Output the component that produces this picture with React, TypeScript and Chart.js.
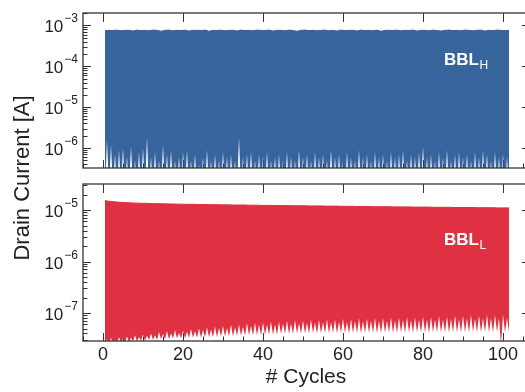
import { useEffect, useRef } from "react";
import { Chart, registerables } from "chart.js";

Chart.register(...registerables);

const FONT = '"Liberation Sans", Arial, Helvetica, sans-serif';
const INK = "#222222";
const AXIS = "#333333";
const BLUE = "#37649c";
const RED = "#e03143";

// x axis: cycle number
const xMajorTicks = [0, 20, 40, 60, 80, 100];
const xMinorStep = 5;

// labelled decades on each panel (exponents of 10)
const decadesH = [-3, -4, -5, -6];
const decadesL = [-5, -6, -7];

// BBL_H: on-state current per cycle [A]
const peakH = [
  7.4e-4, 7.6e-4, 7.5e-4, 7.7e-4, 7.4e-4, 7.6e-4, 7.6e-4, 7.3e-4, 7.7e-4, 7.5e-4,
  7.6e-4, 7.4e-4, 7.7e-4, 7.6e-4, 7.2e-4, 7.6e-4, 7.7e-4, 7.4e-4, 7.6e-4, 7.5e-4,
  7.7e-4, 7.3e-4, 7.6e-4, 7.6e-4, 7.5e-4, 7.7e-4, 7.2e-4, 7.6e-4, 7.5e-4, 7.7e-4,
  7.4e-4, 7.6e-4, 7.6e-4, 7.3e-4, 7.7e-4, 7.5e-4, 7.6e-4, 7.4e-4, 7.7e-4, 7.6e-4,
  7.5e-4, 7.7e-4, 7.3e-4, 7.6e-4, 7.6e-4, 7.4e-4, 7.7e-4, 7.5e-4, 7.2e-4, 7.6e-4,
  7.7e-4, 7.5e-4, 7.6e-4, 7.4e-4, 7.6e-4, 7.7e-4, 7.4e-4, 7.6e-4, 7.3e-4, 7.7e-4,
  7.5e-4, 7.6e-4, 7.6e-4, 7.3e-4, 7.7e-4, 7.5e-4, 7.6e-4, 7.4e-4, 7.7e-4, 7.2e-4,
  7.6e-4, 7.6e-4, 7.5e-4, 7.7e-4, 7.4e-4, 7.6e-4, 7.5e-4, 7.7e-4, 7.3e-4, 7.6e-4,
  7.6e-4, 7.4e-4, 7.7e-4, 7.5e-4, 7.3e-4, 7.6e-4, 7.7e-4, 7.5e-4, 7.6e-4, 7.4e-4,
  7.7e-4, 7.6e-4, 7.4e-4, 7.6e-4, 7.7e-4, 7.3e-4, 7.6e-4, 7.5e-4, 7.7e-4, 7.6e-4,
  7.5e-4, 7.6e-4,
];

// BBL_H: off-state current between cycles [A]
const offH = [
  1.6e-6, 1.2e-6, 7e-7, 9e-7, 1.0e-6, 6e-7, 1.1e-6, 5e-7, 8e-7, 1.0e-6,
  1.8e-6, 6e-7, 8e-7, 5e-7, 1.2e-6, 7e-7, 9e-7, 5e-7, 6e-7, 8e-7,
  9e-7, 5e-7, 7e-7, 4e-7, 6e-7, 9e-7, 5e-7, 7e-7, 5e-7, 8e-7,
  6e-7, 7e-7, 5e-7, 1.8e-6, 6e-7, 7e-7, 8e-7, 5e-7, 7e-7, 6e-7,
  8e-7, 5e-7, 6e-7, 7e-7, 5e-7, 8e-7, 6e-7, 5e-7, 9e-7, 6e-7,
  7e-7, 5e-7, 8e-7, 6e-7, 7e-7, 5e-7, 9e-7, 6e-7, 7e-7, 5e-7,
  8e-7, 6e-7, 5e-7, 9e-7, 6e-7, 7e-7, 5e-7, 8e-7, 6e-7, 7e-7,
  5e-7, 8e-7, 6e-7, 7e-7, 9e-7, 5e-7, 7e-7, 6e-7, 8e-7, 1.1e-6,
  6e-7, 7e-7, 5e-7, 8e-7, 6e-7, 9e-7, 5e-7, 7e-7, 8e-7, 6e-7,
  7e-7, 5e-7, 8e-7, 6e-7, 9e-7, 7e-7, 5e-7, 8e-7, 6e-7, 7e-7,
  6e-7, 5e-7,
];
const offFloorH = 1e-7;

// BBL_L: on-state current per cycle [A]
const peakL = [
  1.52e-5, 1.48e-5, 1.45e-5, 1.43e-5, 1.41e-5, 1.40e-5, 1.38e-5, 1.37e-5, 1.36e-5, 1.35e-5,
  1.35e-5, 1.34e-5, 1.33e-5, 1.33e-5, 1.32e-5, 1.32e-5, 1.31e-5, 1.31e-5, 1.30e-5, 1.30e-5,
  1.29e-5, 1.29e-5, 1.29e-5, 1.28e-5, 1.28e-5, 1.28e-5, 1.27e-5, 1.27e-5, 1.27e-5, 1.26e-5,
  1.26e-5, 1.26e-5, 1.25e-5, 1.25e-5, 1.25e-5, 1.25e-5, 1.24e-5, 1.24e-5, 1.24e-5, 1.23e-5,
  1.23e-5, 1.23e-5, 1.23e-5, 1.22e-5, 1.22e-5, 1.22e-5, 1.22e-5, 1.21e-5, 1.21e-5, 1.21e-5,
  1.21e-5, 1.20e-5, 1.20e-5, 1.20e-5, 1.20e-5, 1.19e-5, 1.19e-5, 1.19e-5, 1.19e-5, 1.18e-5,
  1.18e-5, 1.18e-5, 1.18e-5, 1.17e-5, 1.17e-5, 1.17e-5, 1.17e-5, 1.16e-5, 1.16e-5, 1.16e-5,
  1.16e-5, 1.16e-5, 1.15e-5, 1.15e-5, 1.15e-5, 1.15e-5, 1.15e-5, 1.14e-5, 1.14e-5, 1.14e-5,
  1.14e-5, 1.14e-5, 1.13e-5, 1.13e-5, 1.13e-5, 1.13e-5, 1.13e-5, 1.12e-5, 1.12e-5, 1.12e-5,
  1.12e-5, 1.12e-5, 1.12e-5, 1.11e-5, 1.11e-5, 1.11e-5, 1.11e-5, 1.11e-5, 1.10e-5, 1.10e-5,
  1.10e-5, 1.10e-5,
];

// BBL_L: off-state current between cycles [A]
const offL = [
  3.1e-8, 3.3e-8, 3.0e-8, 3.4e-8, 3.2e-8, 3.5e-8, 3.3e-8, 3.7e-8, 3.4e-8, 3.8e-8,
  3.6e-8, 4.0e-8, 3.7e-8, 4.3e-8, 3.9e-8, 4.4e-8, 4.0e-8, 4.6e-8, 4.1e-8, 4.5e-8,
  4.3e-8, 4.9e-8, 4.4e-8, 5.0e-8, 4.7e-8, 5.3e-8, 4.8e-8, 5.4e-8, 5.1e-8, 5.6e-8,
  5.1e-8, 5.9e-8, 5.3e-8, 6.0e-8, 5.4e-8, 6.3e-8, 5.6e-8, 6.4e-8, 5.9e-8, 6.5e-8,
  5.9e-8, 6.8e-8, 6.0e-8, 6.7e-8, 6.2e-8, 7.0e-8, 6.2e-8, 7.2e-8, 6.3e-8, 7.1e-8,
  6.4e-8, 7.4e-8, 6.5e-8, 7.3e-8, 6.6e-8, 7.5e-8, 6.6e-8, 7.4e-8, 6.7e-8, 7.7e-8,
  6.7e-8, 7.6e-8, 6.9e-8, 7.8e-8, 6.9e-8, 7.7e-8, 7.0e-8, 8.0e-8, 7.0e-8, 7.9e-8,
  7.1e-8, 8.2e-8, 7.1e-8, 8.1e-8, 7.3e-8, 8.3e-8, 7.2e-8, 8.2e-8, 7.4e-8, 8.5e-8,
  7.4e-8, 8.4e-8, 7.5e-8, 8.7e-8, 7.5e-8, 8.6e-8, 7.7e-8, 8.9e-8, 7.6e-8, 8.8e-8,
  7.8e-8, 9.1e-8, 7.8e-8, 8.9e-8, 7.9e-8, 9.2e-8, 7.9e-8, 9.0e-8, 8.0e-8, 9.3e-8,
  8.0e-8, 9.0e-8,
];

// BBL_L: lowest current reached within each cycle [A]
const baseL = [
  2.4e-8, 2.5e-8, 2.5e-8, 2.6e-8, 2.6e-8, 2.7e-8, 2.7e-8, 2.8e-8, 2.8e-8, 2.9e-8,
  2.9e-8, 3.0e-8, 3.0e-8, 3.0e-8, 3.1e-8, 3.1e-8, 3.1e-8, 3.2e-8, 3.2e-8, 3.2e-8,
  3.2e-8, 3.3e-8, 3.3e-8, 3.3e-8, 3.3e-8, 3.4e-8, 3.4e-8, 3.4e-8, 3.4e-8, 3.5e-8,
  3.5e-8, 3.5e-8, 3.5e-8, 3.6e-8, 3.6e-8, 3.6e-8, 3.7e-8, 3.7e-8, 3.7e-8, 3.7e-8,
  3.8e-8, 3.8e-8, 3.8e-8, 3.8e-8, 3.9e-8, 3.9e-8, 3.9e-8, 3.9e-8, 4.0e-8, 4.0e-8,
  4.0e-8, 4.0e-8, 4.1e-8, 4.0e-8, 4.0e-8, 4.1e-8, 4.0e-8, 4.1e-8, 4.0e-8, 4.1e-8,
  4.1e-8, 4.0e-8, 4.1e-8, 4.1e-8, 4.0e-8, 4.1e-8, 4.1e-8, 4.1e-8, 4.0e-8, 4.1e-8,
  4.1e-8, 4.2e-8, 4.1e-8, 4.1e-8, 4.2e-8, 4.1e-8, 4.2e-8, 4.1e-8, 4.2e-8, 4.2e-8,
  4.2e-8, 4.1e-8, 4.2e-8, 4.2e-8, 4.2e-8, 4.2e-8, 4.1e-8, 4.2e-8, 4.2e-8, 4.2e-8,
  4.2e-8, 4.2e-8, 4.3e-8, 4.2e-8, 4.2e-8, 4.3e-8, 4.2e-8, 4.2e-8, 4.3e-8, 2.4e-8,
  4.2e-8, 4.3e-8,
];

type Pt = { x: number; y: number };

// upper edge of the band: one on-state reading per cycle, centred in the cycle
const upperSeries = (peaks: number[]): Pt[] => peaks.map((v, k) => ({ x: k + 0.5, y: v }));

// lower edge: low point inside each cycle, off-state reading at each cycle boundary
const lowerSeries = (base: (k: number) => number, off: number[]): Pt[] => {
  const pts: Pt[] = [];
  off.forEach((v, k) => {
    pts.push({ x: k + 0.5, y: base(k) });
    if (k < off.length - 1) pts.push({ x: k + 1, y: v });
  });
  return pts;
};

interface PanelSpec {
  upper: Pt[];
  lower: Pt[];
  color: string;
  yMin: number;
  yMax: number;
  decades: number[];
  top: number;
  bottom: number;
  name: string;
  sub: string;
  nameBaseline: number;
  withXAxis: boolean;
}

const PAGE_W = 540;
const PAGE_H = 392;
const PLOT_LEFT = 83;
const PLOT_RIGHT = 530;
const X_MIN = -5;
const X_MAX = 106.75;

const panels: PanelSpec[] = [
  {
    upper: upperSeries(peakH),
    lower: lowerSeries(() => offFloorH, offH),
    color: BLUE,
    yMin: 3.24e-7,
    yMax: 2.02e-3,
    decades: decadesH,
    top: 13,
    bottom: 168,
    name: "BBL",
    sub: "H",
    nameBaseline: 65,
    withXAxis: false,
  },
  {
    upper: upperSeries(peakL),
    lower: lowerSeries((k) => baseL[k], offL),
    color: RED,
    yMin: 2.86e-8,
    yMax: 3.2e-5,
    decades: decadesL,
    top: 184,
    bottom: 341,
    name: "BBL",
    sub: "L",
    nameBaseline: 245,
    withXAxis: true,
  },
];

function drawPower(ctx: CanvasRenderingContext2D, xRight: number, yTick: number, exp: number) {
  const sup = "\u2212" + Math.abs(exp);
  ctx.textAlign = "left";
  ctx.textBaseline = "alphabetic";
  ctx.font = `12px ${FONT}`;
  const sw = ctx.measureText(sup).width;
  ctx.fillText(sup, xRight - sw, yTick - 3);
  ctx.font = `17px ${FONT}`;
  const bw = ctx.measureText("10").width;
  ctx.fillText("10", xRight - sw - 1 - bw, yTick + 7);
}

function decorPlugin(spec: PanelSpec) {
  return {
    id: "panelDecor",
    beforeDatasetsDraw(chart: Chart) {
      const { ctx, chartArea: a } = chart;
      const xs = chart.scales.x;
      const ys = chart.scales.y;
      ctx.save();
      ctx.strokeStyle = AXIS;
      ctx.lineWidth = 1;
      ctx.beginPath();
      const e0 = Math.floor(Math.log10(spec.yMin));
      const e1 = Math.ceil(Math.log10(spec.yMax));
      for (let e = e0; e <= e1; e++) {
        for (let m = 1; m <= 9; m++) {
          const v = m * Math.pow(10, e);
          if (v < spec.yMin || v > spec.yMax) continue;
          const py = Math.round(ys.getPixelForValue(v)) + 0.5;
          const len = m === 1 ? 8 : 4.5;
          ctx.moveTo(a.left, py);
          ctx.lineTo(a.left + len, py);
          ctx.moveTo(a.right, py);
          ctx.lineTo(a.right - len, py);
        }
      }
      const start = Math.ceil(X_MIN / xMinorStep) * xMinorStep;
      for (let v = start; v <= X_MAX; v += xMinorStep) {
        const px = Math.round(xs.getPixelForValue(v)) + 0.5;
        const major = xMajorTicks.includes(v);
        ctx.moveTo(px, a.bottom);
        ctx.lineTo(px, a.bottom - (major ? 8 : 4.5));
        if (major) {
          ctx.moveTo(px, a.top);
          ctx.lineTo(px, a.top + 9);
        }
      }
      ctx.stroke();
      ctx.restore();
    },
    afterDatasetsDraw(chart: Chart) {
      const { ctx, chartArea: a } = chart;
      const xs = chart.scales.x;
      const ys = chart.scales.y;
      ctx.save();
      ctx.strokeStyle = AXIS;
      ctx.lineWidth = 1.3;
      ctx.strokeRect(a.left, a.top, a.right - a.left, a.bottom - a.top);

      ctx.fillStyle = INK;
      spec.decades.forEach((e) => drawPower(ctx, a.left - 5, ys.getPixelForValue(Math.pow(10, e)), e));

      if (spec.withXAxis) {
        ctx.font = `18px ${FONT}`;
        ctx.textAlign = "center";
        ctx.textBaseline = "alphabetic";
        xMajorTicks.forEach((v) => ctx.fillText(String(v), xs.getPixelForValue(v), 360));

        ctx.font = `21px ${FONT}`;
        ctx.fillText("# Cycles", 306, 383);

        ctx.save();
        ctx.translate(23, 178);
        ctx.rotate(-Math.PI / 2);
        ctx.font = `22px ${FONT}`;
        ctx.textBaseline = "middle";
        ctx.fillText("Drain Current [A]", 0, 0);
        ctx.restore();
      }

      ctx.fillStyle = "#ffffff";
      ctx.textAlign = "left";
      ctx.textBaseline = "alphabetic";
      ctx.font = `bold 17px ${FONT}`;
      ctx.fillText(spec.name, 444, spec.nameBaseline);
      const nw = ctx.measureText(spec.name).width;
      ctx.font = `12px ${FONT}`;
      ctx.fillText(spec.sub, 444 + nw + 0.5, spec.nameBaseline + 4);
      ctx.restore();
    },
  };
}

function Panel({ spec }: { spec: PanelSpec }) {
  const ref = useRef<HTMLCanvasElement>(null);
  useEffect(() => {
    const canvas = ref.current;
    if (!canvas) return;
    const chart = new Chart(canvas, {
      type: "line",
      data: {
        datasets: [
          {
            data: spec.upper,
            borderColor: spec.color,
            borderWidth: 1,
            backgroundColor: spec.color,
            fill: "+1",
            pointRadius: 0,
            tension: 0,
          },
          {
            data: spec.lower,
            borderColor: "rgba(0,0,0,0)",
            borderWidth: 0,
            backgroundColor: spec.color,
            fill: false,
            pointRadius: 0,
            tension: 0,
          },
        ],
      },
      options: {
        responsive: false,
        animation: false,
        devicePixelRatio: 1,
        events: [],
        layout: {
          padding: {
            left: PLOT_LEFT,
            right: PAGE_W - PLOT_RIGHT,
            top: spec.top,
            bottom: PAGE_H - spec.bottom,
          },
        },
        plugins: {
          legend: { display: false },
          tooltip: { enabled: false },
          title: { display: false },
        },
        scales: {
          x: { type: "linear", min: X_MIN, max: X_MAX, display: false },
          y: { type: "logarithmic", min: spec.yMin, max: spec.yMax, display: false },
        },
      },
      plugins: [decorPlugin(spec)],
    });
    return () => chart.destroy();
  }, [spec]);
  return (
    <canvas
      ref={ref}
      width={PAGE_W}
      height={PAGE_H}
      style={{ position: "absolute", left: 0, top: 0, display: "block" }}
    />
  );
}

export default function App() {
  return (
    <div
      style={{
        position: "absolute",
        left: 0,
        top: 0,
        width: 525,
        height: PAGE_H,
        overflow: "hidden",
        background: "#ffffff",
      }}
    >
      {panels.map((p, i) => (
        <Panel key={i} spec={p} />
      ))}
    </div>
  );
}
